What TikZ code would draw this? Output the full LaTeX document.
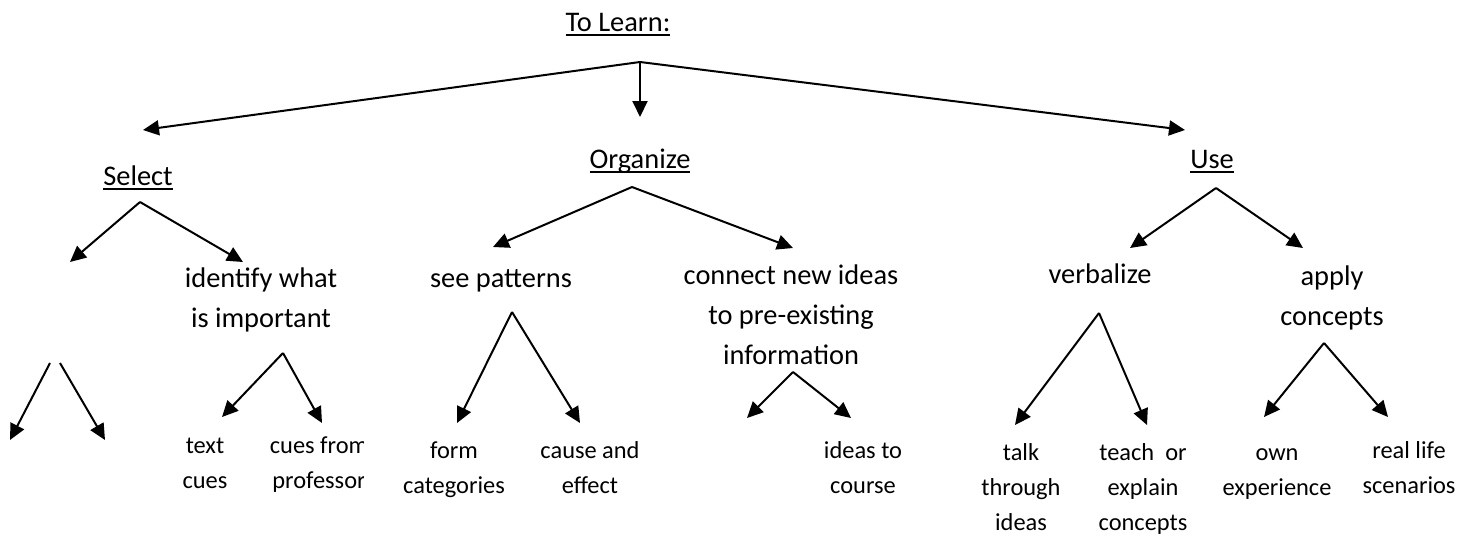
\documentclass[tikz,border=0pt]{standalone}
\usepackage{fontspec}
\setmainfont{Carlito}
\usetikzlibrary{arrows.meta}

\newcommand{\ulabel}[1]{\setbox0\hbox{#1}\rlap{\rule[-2.5pt]{\wd0}{1pt}}\box0}

\begin{document}
\begin{tikzpicture}[x=0.5pt,y=-0.5pt,
        big/.style={anchor=base,inner sep=0pt,align=center,font=\fontsize{14.2}{20}\selectfont},
        small/.style={anchor=base,inner sep=0pt,align=center,font=\fontsize{12.2}{17.5}\selectfont},
        arr/.style={line width=1pt,-{Triangle[length=8pt,width=7.5pt]}}]
    \useasboundingbox (0,0) rectangle (1475,536);
    %% Top (multi-line nodes sit on their last line)
    \node[big] (learn) at (618,31) {\ulabel{To Learn:}};
    \coordinate (learnfork) at (640,62);
    \coordinate (selecttip) at (143,130);
    \coordinate (organizetip) at (640,117);
    \coordinate (usetip) at (1185,130);
    \draw[arr] (learnfork) -- (selecttip);
    \draw[arr] (learnfork) -- (organizetip);
    \draw[arr] (learnfork) -- (usetip);
    %% Select
    \node[big] (select) at (138,185) {\ulabel{Select}};
    \coordinate (selectfork) at (140,202);
    \draw[arr] (selectfork) -- (70,262);
    \draw[arr] (selectfork) -- (243,262);
    \coordinate (blankleft) at (50,363);
    \coordinate (blankright) at (60,363);
    \draw[arr] (blankleft) -- (10,440);
    \draw[arr] (blankright) -- (105,440);
    \node[big] (identify) at (261,327) {identify what\\is important};
    \coordinate (identifyfork) at (283,353);
    \draw[arr] (identifyfork) -- (222,417);
    \draw[arr] (identifyfork) -- (322,423);
    \node[small] (textcues) at (205,488) {text\\cues};
    \begin{scope}
        \clip (262,420) rectangle (363,500);
        \node[small] (cuesprof) at (319,488) {cues from\\professor};
    \end{scope}
    %% Organize
    \node[big] (organize) at (640,168) {\ulabel{Organize}};
    \coordinate (organizefork) at (632,187);
    \draw[arr] (organizefork) -- (493,247);
    \draw[arr] (organizefork) -- (793,248);
    \node[big] (patterns) at (501,287) {see patterns};
    \coordinate (patternsfork) at (512,312);
    \draw[arr] (patternsfork) -- (457,423);
    \draw[arr] (patternsfork) -- (580,423);
    \node[small] (form) at (454,493) {form\\categories};
    \node[small] (cause) at (590,493) {cause and\\effect};
    \node[big] (connect) at (791,364) {connect new ideas\\to pre-existing\\information};
    \coordinate (connectfork) at (793,372);
    \draw[arr] (connectfork) -- (747,418);
    \draw[arr] (connectfork) -- (851,418);
    \node[small] (course) at (863,493) {ideas to\\course};
    %% Use
    \node[big] (use) at (1212,168) {\ulabel{Use}};
    \coordinate (usefork) at (1216,188);
    \draw[arr] (usefork) -- (1130,248);
    \draw[arr] (usefork) -- (1303,248);
    \node[big] (verbalize) at (1100,283) {verbalize};
    \coordinate (verbalizefork) at (1099,313);
    \draw[arr] (verbalizefork) -- (1015,425);
    \draw[arr] (verbalizefork) -- (1147,425);
    \node[small] (talk) at (1021,530) {talk\\through\\ideas};
    \node[small] (teach) at (1143,530) {teach\ \ or\\explain\\concepts};
    \node[big] (apply) at (1332,325) {apply\\concepts};
    \coordinate (applyfork) at (1324,343);
    \draw[arr] (applyfork) -- (1264,417);
    \draw[arr] (applyfork) -- (1388,417);
    \node[small] (own) at (1277,495) {own\\experience};
    \node[small] (real) at (1409,493) {real life\\scenarios};
\end{tikzpicture}
\end{document}
